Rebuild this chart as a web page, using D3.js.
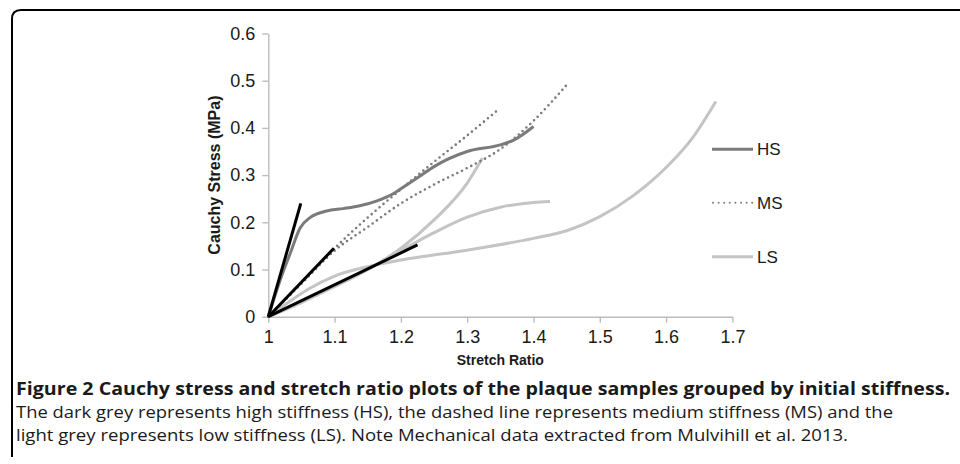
<!DOCTYPE html>
<html>
<head>
<meta charset="utf-8">
<script src="https://cdn.jsdelivr.net/npm/d3@7"></script>
<style>
  body { margin: 0; background: #fff; }
  svg { display: block; }
</style>
</head>
<body>
<svg width="960" height="464"></svg>
<script>
// stretch ratio / stress (MPa) pairs
const hsCurve = [[1, 0], [1.018, 0.078], [1.033, 0.134], [1.048, 0.188], [1.063, 0.21], [1.088, 0.224], [1.113, 0.229], [1.138, 0.235], [1.163, 0.245], [1.189, 0.261], [1.2, 0.271], [1.229, 0.298], [1.25, 0.318], [1.3, 0.35], [1.35, 0.364], [1.37, 0.374], [1.4, 0.403]];
const msCurveA = [[1, 0], [1.05, 0.072], [1.1, 0.145], [1.15, 0.21], [1.2, 0.27], [1.25, 0.328], [1.3, 0.384], [1.348, 0.44]];
const msCurveB = [[1, 0], [1.05, 0.07], [1.1, 0.14], [1.15, 0.19], [1.2, 0.24], [1.25, 0.28], [1.3, 0.315], [1.35, 0.355], [1.4, 0.415], [1.45, 0.491]];
const lsCurveA = [[1, 0], [1.05, 0.032], [1.1, 0.064], [1.15, 0.1], [1.2, 0.145], [1.25, 0.205], [1.3, 0.283], [1.323, 0.336]];
const lsCurveB = [[1, 0], [1.05, 0.03], [1.1, 0.064], [1.15, 0.1], [1.2, 0.14], [1.25, 0.178], [1.3, 0.211], [1.35, 0.232], [1.4, 0.242], [1.425, 0.244]];
const lsCurveC = [[1, 0], [1.03, 0.03], [1.06, 0.058], [1.1, 0.086], [1.15, 0.106], [1.2, 0.12], [1.3, 0.141], [1.4, 0.166], [1.45, 0.182], [1.5, 0.212], [1.55, 0.256], [1.6, 0.316], [1.641, 0.381], [1.675, 0.456]];
const tangents = [[[1, 0], [1.049, 0.24]], [[1, 0], [1.099, 0.145]], [[1, 0], [1.225, 0.152]]];

const xTicks = [1, 1.1, 1.2, 1.3, 1.4, 1.5, 1.6, 1.7];
const yTicks = [0, 0.1, 0.2, 0.3, 0.4, 0.5, 0.6];
const legendNames = ["HS", "MS", "LS"];
const captionLines = [
    "Figure 2 Cauchy stress and stretch ratio plots of the plaque samples grouped by initial stiffness.",
    "The dark grey represents high stiffness (HS), the dashed line represents medium stiffness (MS) and the",
    "light grey represents low stiffness (LS). Note Mechanical data extracted from Mulvihill et al. 2013."
];

const svg = d3.select("svg");
const font = "'Liberation Sans', Arial, sans-serif";

// frame round the figure
svg.append("path")
    .attr("d", "M12,457 L12,19 Q12,10 21,10 L960,10")
    .style("fill", "none")
    .style("stroke", "#000")
    .style("stroke-width", "2");

const xScale = d3.scaleLinear().domain([1, 1.7]).range([268.3, 732.4]);
const yScale = d3.scaleLinear().domain([0, 0.6]).range([316.7, 33.5]);

const xAxis = svg.append("g")
    .attr("transform", "translate(0," + yScale(0) + ")")
    .call(d3.axisBottom(xScale).tickValues(xTicks).tickSize(6).tickSizeOuter(0).tickFormat(d3.format("")));
const yAxis = svg.append("g")
    .attr("transform", "translate(" + xScale(1) + ",0)")
    .call(d3.axisLeft(yScale).tickValues(yTicks).tickSize(6).tickSizeOuter(0).tickFormat(d3.format("")));

[xAxis, yAxis].forEach(function (ax) {
    ax.select(".domain").style("stroke", "#bdbdbd").style("stroke-width", "1.4");
    ax.selectAll(".tick line").style("stroke", "#bdbdbd").style("stroke-width", "1.4");
    ax.selectAll(".tick text")
        .style("font-family", font)
        .style("font-size", "18px")
        .style("fill", "#1a1a1a");
});
xAxis.selectAll(".tick text").attr("y", 14);
yAxis.selectAll(".tick text").attr("x", -13);

svg.append("text")
    .attr("x", xScale(1.35))
    .attr("y", 365)
    .attr("text-anchor", "middle")
    .style("font-family", font)
    .style("font-weight", "bold")
    .style("font-size", "14px")
    .style("fill", "#1a1a1a")
    .text("Stretch Ratio");

svg.append("text")
    .attr("transform", "translate(220," + yScale(0.3) + ") rotate(-90)")
    .attr("text-anchor", "middle")
    .style("font-family", font)
    .style("font-weight", "bold")
    .style("font-size", "16px")
    .style("fill", "#1a1a1a")
    .text("Cauchy Stress (MPa)");

const line = d3.line()
    .x(function (d) { return xScale(d[0]); })
    .y(function (d) { return yScale(d[1]); })
    .curve(d3.curveMonotoneX);

const straight = d3.line()
    .x(function (d) { return xScale(d[0]); })
    .y(function (d) { return yScale(d[1]); });

const lsColor = "#c4c4c4";
const hsColor = "#7b7b7b";
const msColor = "#7b7b7b";

[lsCurveA, lsCurveB, lsCurveC].forEach(function (c) {
    svg.append("path").datum(c).attr("d", line)
        .style("fill", "none").style("stroke", lsColor).style("stroke-width", "3");
});

svg.append("path").datum(hsCurve).attr("d", line)
    .style("fill", "none").style("stroke", hsColor).style("stroke-width", "3");

[msCurveA, msCurveB].forEach(function (c) {
    svg.append("path").datum(c).attr("d", line)
        .style("fill", "none").style("stroke", msColor).style("stroke-width", "2.6")
        .style("stroke-linecap", "round").style("stroke-dasharray", "0 5.2");
});

tangents.forEach(function (t) {
    svg.append("path").datum(t).attr("d", straight)
        .style("fill", "none").style("stroke", "#000").style("stroke-width", "3");
});

// legend
const legendY = [149.3, 202.7, 256.7];
legendNames.forEach(function (name, i) {
    const g = svg.append("g").attr("transform", "translate(712," + legendY[i] + ")");
    const l = g.append("line").attr("x1", 0).attr("x2", 41).attr("y1", 0).attr("y2", 0)
        .style("stroke-width", i === 1 ? "2" : "3");
    if (i === 0) l.style("stroke", hsColor);
    if (i === 1) l.style("stroke", msColor).style("stroke-linecap", "round").style("stroke-dasharray", "0 5.6").attr("x1", 1);
    if (i === 2) l.style("stroke", lsColor);
    g.append("text").attr("x", 45).attr("y", 6)
        .style("font-family", font)
        .style("font-size", "17px")
        .style("fill", "#1a1a1a")
        .text(name);
});

// caption
const capY = [395, 418, 441];
const capWidth = [934, 877, 832];
captionLines.forEach(function (txt, i) {
    svg.append("text")
        .attr("x", 16)
        .attr("y", capY[i])
        .attr("textLength", capWidth[i])
        .attr("lengthAdjust", "spacingAndGlyphs")
        .style("font-family", "'Open Sans', sans-serif")
        .style("font-weight", i === 0 ? "bold" : "normal")
        .style("font-size", i === 0 ? "18.5px" : "17px")
        .style("fill", "#1a1a1a")
        .text(txt);
});
</script>
</body>
</html>
